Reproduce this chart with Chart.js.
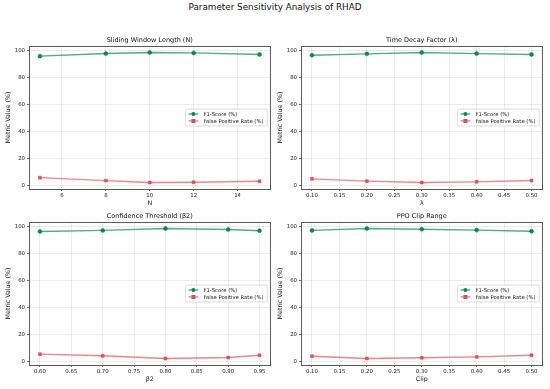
<!DOCTYPE html>
<html>
<head>
<meta charset="utf-8">
<script src="https://cdn.jsdelivr.net/npm/chart.js@4/dist/chart.umd.min.js"></script>
<style>
html,body{margin:0;padding:0;background:#fff;width:550px;height:389px;overflow:hidden}
#mainTitle{position:absolute;left:0;top:2px;width:550px;text-align:center;font:8.8px "DejaVu Sans";color:#111}
.cell{position:absolute;width:275px;height:190px}
</style>
</head>
<body>
<div id="mainTitle">Parameter Sensitivity Analysis of RHAD</div>
<div class="cell" style="left:0;top:20px"><canvas id="c0" width="275" height="190"></canvas></div>
<div class="cell" style="left:272px;top:20px"><canvas id="c1" width="275" height="190"></canvas></div>
<div class="cell" style="left:0;top:196px"><canvas id="c2" width="275" height="190"></canvas></div>
<div class="cell" style="left:272px;top:196px"><canvas id="c3" width="275" height="190"></canvas></div>
<script>
// values
const nValues = [5, 8, 10, 12, 15]
const nF1 = [96.1, 98.0, 98.8, 98.5, 97.3]
const nFPR = [5.6, 3.4, 2.0, 2.2, 2.9]
const nTicks = [6, 8, 10, 12, 14]

const lambdaValues = [0.1, 0.2, 0.3, 0.4, 0.5]
const lambdaF1 = [96.6, 97.6, 98.6, 97.8, 97.1]
const lambdaFPR = [4.9, 3.2, 2.2, 2.7, 3.7]

const beta2Values = [0.6, 0.7, 0.8, 0.9, 0.95]
const beta2F1 = [96.1, 96.9, 98.3, 97.6, 96.6]
const beta2FPR = [5.4, 4.2, 2.2, 2.9, 4.6]
const beta2Ticks = [0.60, 0.65, 0.70, 0.75, 0.80, 0.85, 0.90, 0.95]

const clipValues = [0.1, 0.2, 0.3, 0.4, 0.5]
const clipF1 = [96.9, 98.3, 97.8, 97.1, 96.3]
const clipFPR = [3.9, 2.2, 2.7, 3.4, 4.6]

const decimalTicks = [0.10, 0.15, 0.20, 0.25, 0.30, 0.35, 0.40, 0.45, 0.50]
const yTicks = [0, 20, 40, 60, 80, 100]

const seriesNames = ['F1-Score (%)', 'False Positive Rate (%)']
const 绿 = '#07894f', 绿线 = 'rgba(7,137,79,0.7)'
const 红 = '#e94b53', 红线 = 'rgba(233,75,83,0.68)'
const 字体 = '"DejaVu Sans", sans-serif'

const 面板 = [
  {id:'c0', title:'Sliding Window Length (N)', xLabel:'N', xs:nValues, f1:nF1, fpr:nFPR, ticks:nTicks, fmt:v=>String(v)},
  {id:'c1', title:'Time Decay Factor (\u03bb)', xLabel:'\u03bb', xs:lambdaValues, f1:lambdaF1, fpr:lambdaFPR, ticks:decimalTicks, fmt:v=>v.toFixed(2)},
  {id:'c2', title:'Confidence Threshold (\u03b22)', xLabel:'\u03b22', xs:beta2Values, f1:beta2F1, fpr:beta2FPR, ticks:beta2Ticks, fmt:v=>v.toFixed(2)},
  {id:'c3', title:'PPO Clip Range', xLabel:'Clip', xs:clipValues, f1:clipF1, fpr:clipFPR, ticks:decimalTicks, fmt:v=>v.toFixed(2)}
]

// frame, subplot title, legend inside the axes
const 装饰 = {
  id:'装饰',
  beforeDatasetsDraw(chart){
    const a = chart.chartArea, c = chart.ctx
    c.save()
    c.strokeStyle = '#5a5a5a'
    c.lineWidth = 1
    c.strokeRect(Math.round(a.left)+0.5, Math.round(a.top)+0.5, Math.round(a.right-a.left)-1, Math.round(a.bottom-a.top))
    c.fillStyle = '#111'
    c.font = '6.5px ' + 字体
    c.textAlign = 'center'
    c.textBaseline = 'middle'
    c.fillText(chart.options.plugins.装饰.title, (a.left+a.right)/2, a.top-6)
    c.restore()
  },
  afterDatasetsDraw(chart){
    const a = chart.chartArea, c = chart.ctx
    const ds = chart.data.datasets
    c.save()
    c.font = '5.3px ' + 字体
    const tw = Math.max(...ds.map(d=>c.measureText(d.label).width))
    const w = tw + 22, h = 17
    const bx = a.right - 3 - w, by = (a.top+a.bottom)/2 - h/2
    c.fillStyle = 'rgba(255,255,255,0.85)'
    c.strokeStyle = '#cfcfcf'
    c.lineWidth = 0.7
    c.beginPath()
    c.roundRect(bx, by, w, h, 1.5)
    c.fill(); c.stroke()
    ds.forEach((d,i)=>{
      const y = by + 5 + i*7
      c.strokeStyle = d.borderColor
      c.lineWidth = 1.4
      c.beginPath(); c.moveTo(bx+3, y); c.lineTo(bx+13, y); c.stroke()
      c.fillStyle = d.pointBackgroundColor
      if(d.pointStyle==='rect'){ c.fillRect(bx+8-2, y-2, 4, 4) }
      else { c.beginPath(); c.arc(bx+8, y, 2, 0, Math.PI*2); c.fill() }
      c.fillStyle = '#222'
      c.textAlign = 'left'; c.textBaseline = 'middle'
      c.fillText(d.label, bx+18, y+0.3)
    })
    c.restore()
  }
}

function 边界(vals){
  const lo = Math.min(...vals), hi = Math.max(...vals), m = (hi-lo)*0.05
  return [lo-m, hi+m]
}

面板.forEach(p=>{
  const [xmin, xmax] = 边界(p.xs)
  const [ymin, ymax] = 边界(p.f1.concat(p.fpr))
  const 网格 = {color:'rgba(0,0,0,0.075)', borderDash:[2,2], tickColor:'#444', tickLength:2, tickWidth:0.8, tickBorderDash:[]}
  new Chart(document.getElementById(p.id), {
    type:'line',
    data:{datasets:[
      {label:seriesNames[0], data:p.xs.map((x,i)=>({x, y:p.f1[i]})), borderColor:绿线, backgroundColor:绿, pointBackgroundColor:绿, pointBorderColor:绿, pointStyle:'circle', pointRadius:2, pointBorderWidth:0.5, borderWidth:1.4},
      {label:seriesNames[1], data:p.xs.map((x,i)=>({x, y:p.fpr[i]})), borderColor:红线, backgroundColor:红, pointBackgroundColor:红, pointBorderColor:红, pointStyle:'rect', pointRadius:2.1, pointBorderWidth:0.5, borderWidth:1.4}
    ]},
    options:{
      responsive:false, animation:false,
      layout:{padding:{left:0, top:26, right:4, bottom:0}},
      plugins:{legend:{display:false}, tooltip:{enabled:false}, 装饰:{title:p.title}},
      scales:{
        x:{
          type:'linear', min:xmin, max:xmax,
          afterBuildTicks:s=>{ s.ticks = p.ticks.map(v=>({value:v})) },
          afterFit:s=>{ s.height = 21 },
          border:{display:false},
          grid:网格,
          ticks:{font:{family:字体, size:5.4}, color:'#222', padding:1.5, maxRotation:0, autoSkip:false, callback:v=>p.fmt(v)},
          title:{display:true, text:p.xLabel, font:{family:字体, size:6.3}, color:'#222', padding:{top:0, bottom:2.5}}
        },
        y:{
          min:ymin, max:ymax,
          afterBuildTicks:s=>{ s.ticks = yTicks.map(v=>({value:v})) },
          afterFit:s=>{ s.width = 29 },
          border:{display:false},
          grid:网格,
          ticks:{font:{family:字体, size:5.4}, color:'#222', padding:2, callback:v=>String(v)},
          title:{display:true, text:'Metric Value (%)', font:{family:字体, size:6.3}, color:'#222', padding:{top:5, bottom:0}}
        }
      }
    },
    plugins:[装饰]
  })
})
</script>
</body>
</html>
